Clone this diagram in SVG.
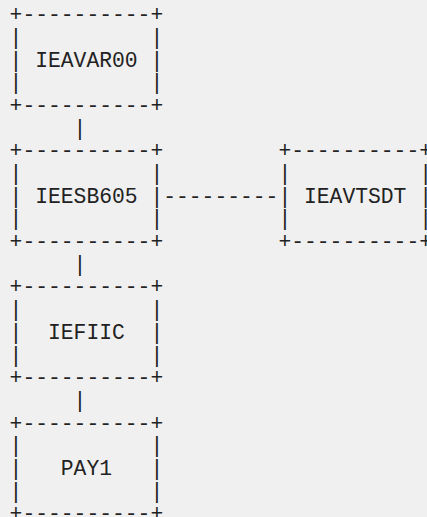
<svg xmlns="http://www.w3.org/2000/svg" width="427" height="517" viewBox="0 0 427 517" xml:space="preserve">
<style>
text { font-family: "Liberation Mono", "DejaVu Sans Mono", monospace; font-size: 21.33px; fill: #222222; white-space: pre; }
</style>
<rect x="0" y="0" width="427" height="517" fill="#f0f0f0"/>
<g id="IEAVAR00">
<text x="9.6" y="21.3">+----------+</text>
<text x="9.6" y="43.98">|          |</text>
<text x="9.6" y="66.66">| IEAVAR00 |</text>
<text x="9.6" y="89.34">|          |</text>
<text x="9.6" y="112.02">+----------+</text>
</g>
<g id="IEESB605">
<text x="9.6" y="157.38">+----------+</text>
<text x="9.6" y="180.06">|          |</text>
<text x="9.6" y="202.74">| IEESB605 |</text>
<text x="9.6" y="225.42">|          |</text>
<text x="9.6" y="248.1">+----------+</text>
</g>
<g id="IEAVTSDT">
<text x="278.4" y="157.38">+----------+</text>
<text x="278.4" y="180.06">|          |</text>
<text x="278.4" y="202.74">| IEAVTSDT |</text>
<text x="278.4" y="225.42">|          |</text>
<text x="278.4" y="248.1">+----------+</text>
</g>
<g id="IEFIIC">
<text x="9.6" y="293.46">+----------+</text>
<text x="9.6" y="316.14">|          |</text>
<text x="9.6" y="338.82">|  IEFIIC  |</text>
<text x="9.6" y="361.5">|          |</text>
<text x="9.6" y="384.18">+----------+</text>
</g>
<g id="PAY1">
<text x="9.6" y="429.54">+----------+</text>
<text x="9.6" y="452.22">|          |</text>
<text x="9.6" y="474.9">|   PAY1   |</text>
<text x="9.6" y="497.58">|          |</text>
<text x="9.6" y="520.26">+----------+</text>
</g>
<g id="connectors">
<text x="73.6" y="134.7">|</text>
<text x="163.2" y="202.74">---------</text>
<text x="73.6" y="270.78">|</text>
<text x="73.6" y="406.86">|</text>
</g>
</svg>
